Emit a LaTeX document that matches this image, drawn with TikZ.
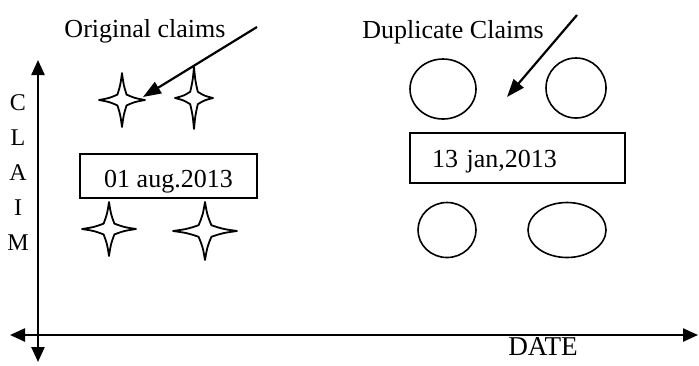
\documentclass[tikz,border=0pt]{standalone}
\usepackage{fontspec}
\setmainfont{Liberation Serif}
\usetikzlibrary{arrows.meta,shapes.geometric}
\tikzstyle{axis} = [
  line width=1.2pt,
  {Triangle[length=7.5pt,width=6.5pt]}-{Triangle[length=7.5pt,width=6.5pt]},
]
\tikzstyle{pointer} = [line width=1.1pt, -{Triangle[length=9pt,width=6.5pt]}]
\tikzstyle{claim} = [line width=0.9pt, line join=round]
\tikzstyle{datebox} = [draw, line width=0.8pt, inner sep=0pt]
\tikzstyle{dup} = [draw, ellipse, line width=0.8pt, inner sep=0pt]

% name, x, y, half width, half height
\newcommand{\sparkle}[5]{%
  \coordinate (#1) at (#2,#3);
  \draw[claim, shift={(#1)}]
    (#4,0) .. controls (0.55*#4,-0.07*#5) .. (0.2*#4,-0.2*#5)
    .. controls (0.07*#4,-0.55*#5) .. (0,-#5)
    .. controls (-0.07*#4,-0.55*#5) .. (-0.2*#4,-0.2*#5)
    .. controls (-0.55*#4,-0.07*#5) .. (-#4,0)
    .. controls (-0.55*#4,0.07*#5) .. (-0.2*#4,0.2*#5)
    .. controls (-0.07*#4,0.55*#5) .. (0,#5)
    .. controls (0.07*#4,0.55*#5) .. (0.2*#4,0.2*#5)
    .. controls (0.55*#4,0.07*#5) .. cycle;
}

\begin{document}
\begin{tikzpicture}[x=0.5pt, y=-0.5pt, font=\fontsize{13}{15}\selectfont]
    \useasboundingbox (0,0) rectangle (699,365);

    % Axes
    \coordinate (ypos) at (38,60);
    \coordinate (yneg) at (38,362);
    \coordinate (xneg) at (10,335);
    \coordinate (xpos) at (698,335);
    \draw[axis] (yneg) -- (ypos);
    \draw[axis] (xneg) -- (xpos);

    \foreach \ch [count=\i] in {C,L,A,I,M}
      \node[anchor=base, font=\fontsize{12}{14}\selectfont] (ylab\i) at (18,75+35*\i) {\ch};
    \node[anchor=base, font=\fontsize{13.6}{16}\selectfont] (xlab) at (543,355) {DATE};

    % Original claims
    \sparkle{orig1}{122}{100}{23}{27}
    \sparkle{orig2}{194}{98}{19}{31}
    \sparkle{orig3}{109}{229}{27}{27}
    \sparkle{orig4}{205}{231}{32}{29}
    \node[datebox, minimum width=88.5pt, minimum height=22pt,
      text height=11pt, text depth=0pt] (origdate) at (168.5,176) {01 aug.2013};

    % Duplicate claims
    \node[dup, minimum width=33pt, minimum height=30pt] (dup1) at (443,89) {};
    \node[dup, minimum width=30pt, minimum height=30pt] (dup2) at (576,88) {};
    \node[dup, minimum width=29pt, minimum height=27.5pt] (dup3) at (447,230) {};
    \node[dup, minimum width=39pt, minimum height=27.5pt] (dup4) at (567,230) {};
    \node[datebox, inner xsep=11pt, text width=85.5pt, align=left,
      minimum height=25pt, text height=9pt, text depth=0pt] (dupdate) at (517.5,158) {13 jan,2013};

    % Labels
    \node[anchor=base] (origlab) at (145,37) {Original claims};
    \node[anchor=base] (duplab) at (453,38) {Duplicate Claims};
    \coordinate (origtail) at (257,27);
    \coordinate (origtip) at (143,97);
    \coordinate (duptail) at (577,15);
    \coordinate (duptip) at (507,97);
    \draw[pointer] (origtail) -- (origtip);
    \draw[pointer] (duptail) -- (duptip);
\end{tikzpicture}
\end{document}
